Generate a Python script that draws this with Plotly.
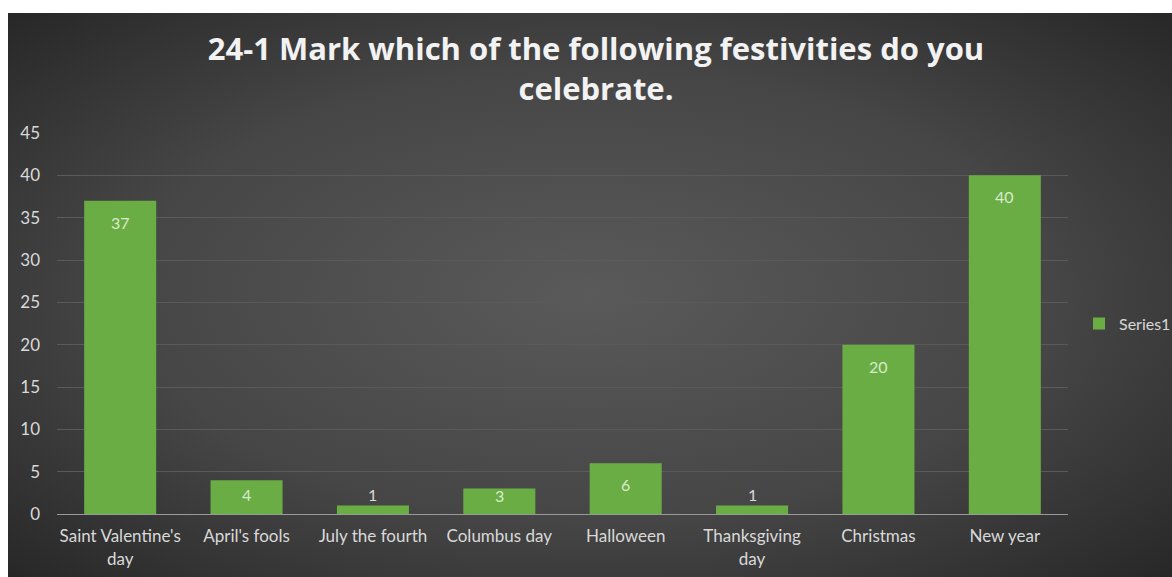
import base64
import plotly.graph_objects as go

# Survey answers: how many respondents celebrate each festivity
categories = ["Saint Valentine's<br>day", "April's fools", "July the fourth", "Columbus day",
              "Halloween", "Thanksgiving<br>day", "Christmas", "New year"]
values = [37, 4, 1, 3, 6, 1, 20, 40]
series_name = "Series1"
title_text = "24-1 Mark which of the following festivities do you<br>celebrate."
y_ticks = [0, 5, 10, 15, 20, 25, 30, 35, 40, 45]

W, H = 1172, 577
L, R, T, B = 57, 104, 133, 63
Y_MAX = 45

# Dark radial backdrop for the chart area
svg = (
    '<svg xmlns="http://www.w3.org/2000/svg" width="1164" height="564" viewBox="0 0 1164 564" '
    'preserveAspectRatio="none">'
    '<defs><radialGradient id="g" cx="0.5" cy="0.5" r="0.72">'
    '<stop offset="0" stop-color="#5a5a5a"/>'
    '<stop offset="0.55" stop-color="#464646"/>'
    '<stop offset="1" stop-color="#262626"/>'
    '</radialGradient></defs>'
    '<rect x="0" y="0" width="1164" height="564" fill="url(#g)"/></svg>'
)
bg_uri = "data:image/svg+xml;base64," + base64.b64encode(svg.encode()).decode()

pw, ph = W - L - R, H - T - B
x0 = (8 - L) / pw
x1 = (W - L) / pw
ytop = (H - B - 13) / ph
ybot = (H - B - H) / ph

fig = go.Figure(
    go.Bar(
        x=categories,
        y=values,
        name=series_name,
        marker=dict(color="#6aad44", line=dict(width=0)),
        showlegend=True,
        hoverinfo="x+y",
    )
)

# Value labels: sit inside the bar end, or just above very short bars
annotations = []
for cat, v in zip(categories, values):
    bar_px = v * ph / Y_MAX
    drop = min(21.5, bar_px - 19)
    inside = drop > 0
    annotations.append(dict(
        x=cat, y=v, xref="x", yref="y",
        text=str(v), showarrow=False,
        yanchor="middle", yshift=-drop,
        font=dict(family="Lato", size=16, color="#d8ebcb" if inside else "#d9d9d9"),
    ))

fig.update_layout(
    width=W,
    height=H,
    margin=dict(l=L, r=R, t=T, b=B, pad=0, autoexpand=False),
    paper_bgcolor="#ffffff",
    plot_bgcolor="rgba(0,0,0,0)",
    bargap=0.43,
    annotations=annotations,
    title=dict(
        text=title_text,
        x=596 / W,
        xanchor="center",
        xref="container",
        y=1 - 60 / H,
        yanchor="top",
        yref="container",
        font=dict(family="Open Sans", size=31, color="#f2f2f2", weight="bold"),
    ),
    images=[dict(
        source=bg_uri,
        xref="paper", yref="paper",
        x=x0, y=ytop,
        sizex=x1 - x0, sizey=ytop - ybot,
        xanchor="left", yanchor="top",
        sizing="stretch",
        layer="below",
    )],
    legend=dict(
        xref="container",
        x=1079 / W,
        y=0.5,
        xanchor="left",
        yanchor="middle",
        font=dict(family="Lato", size=16, color="#d9d9d9"),
        bgcolor="rgba(0,0,0,0)",
        itemwidth=30,
    ),
    xaxis=dict(
        showgrid=False,
        showline=True,
        linecolor="#9a9a9a",
        linewidth=1,
        ticks="",
        tickfont=dict(family="Lato", size=17, color="#d9d9d9"),
        ticklabelstandoff=7,
    ),
    yaxis=dict(
        range=[0, Y_MAX],
        tickvals=y_ticks,
        showgrid=True,
        gridcolor="#5a5a5a",
        gridwidth=1,
        zeroline=False,
        showline=False,
        ticks="",
        tickfont=dict(family="Lato", size=17, color="#d9d9d9"),
        ticklabelstandoff=16,
    ),
)

fig.write_html("out.html")
